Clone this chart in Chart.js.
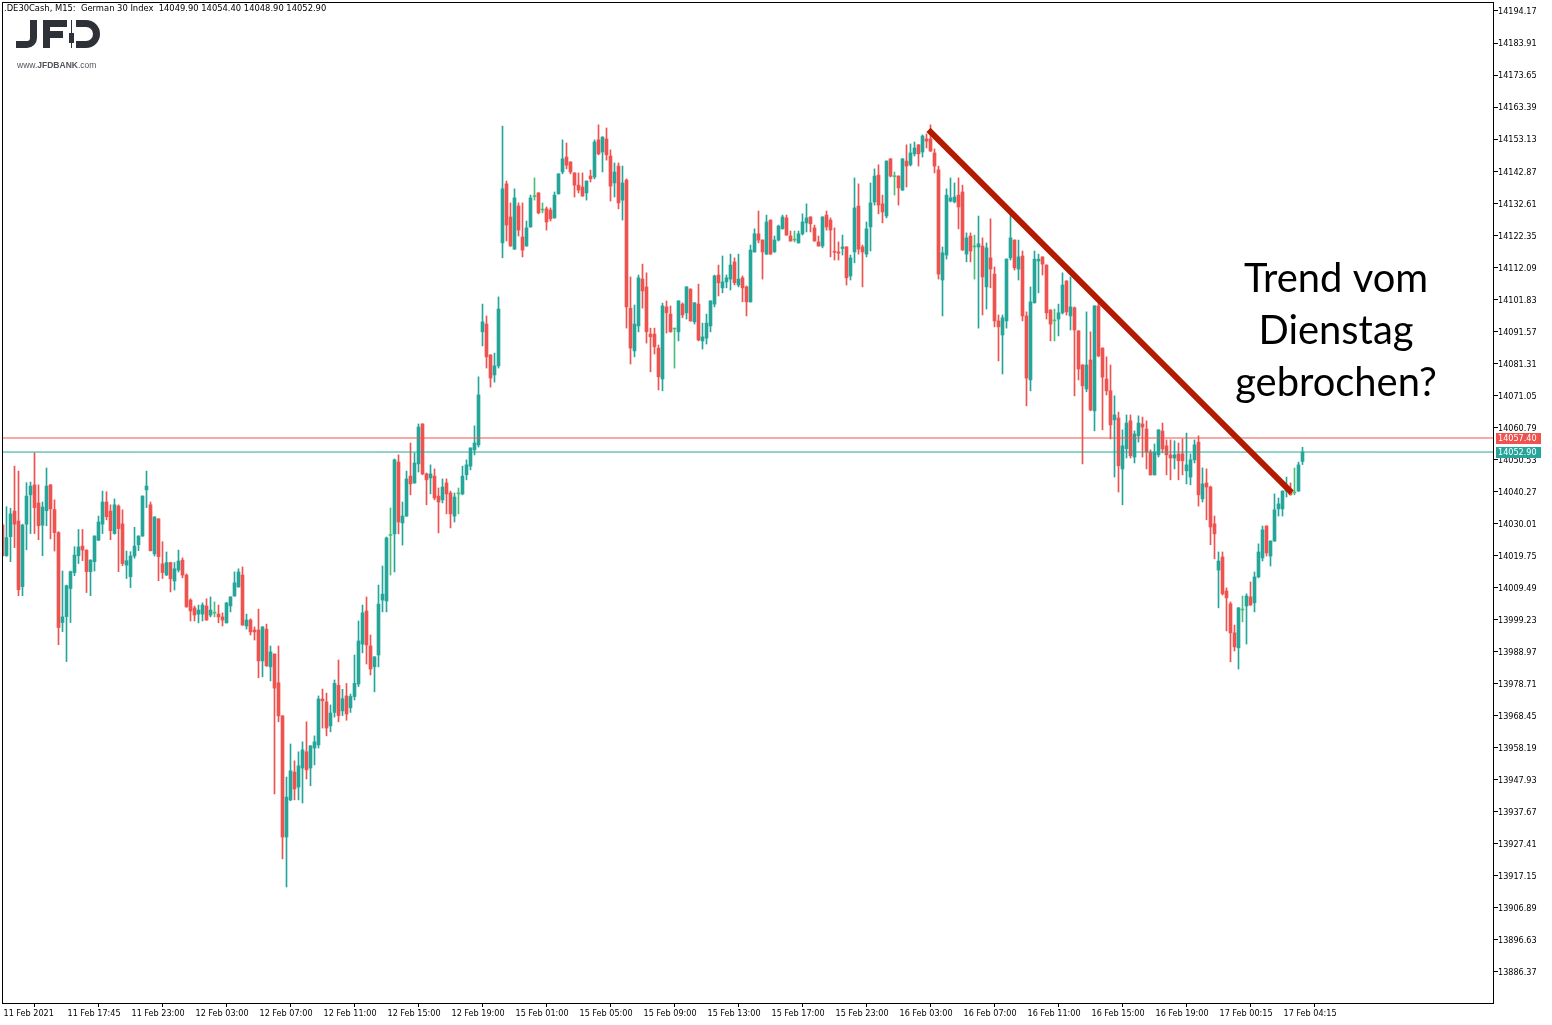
<!DOCTYPE html>
<html>
<head>
<meta charset="utf-8">
<title>.DE30Cash M15</title>
<script src="https://cdn.jsdelivr.net/npm/chart.js@4.4.1/dist/chart.umd.min.js"></script>
<style>
    html, body { margin: 0; padding: 0; background: #ffffff; }
    #wrap { position: relative; width: 1552px; height: 1025px; }
</style>
</head>
<body>
<div id="wrap"><canvas id="priceChart" width="1552" height="1025"></canvas></div>
<script>
// ==============================
// Chart data (M15 bars)
// ==============================
const timeLabels = [
    "11 Feb 2021", "11 Feb 17:45", "11 Feb 23:00", "12 Feb 03:00", "12 Feb 07:00",
    "12 Feb 11:00", "12 Feb 15:00", "12 Feb 19:00", "15 Feb 01:00", "15 Feb 05:00",
    "15 Feb 09:00", "15 Feb 13:00", "15 Feb 17:00", "15 Feb 23:00", "16 Feb 03:00",
    "16 Feb 07:00", "16 Feb 11:00", "16 Feb 15:00", "16 Feb 19:00", "17 Feb 00:15",
    "17 Feb 04:15"
];

const priceTicks = [
    14194.17, 14183.91, 14173.65, 14163.39, 14153.13, 14142.87, 14132.61, 14122.35,
    14112.09, 14101.83, 14091.57, 14081.31, 14071.05, 14060.79, 14050.53, 14040.27,
    14030.01, 14019.75, 14009.49, 13999.23, 13988.97, 13978.71, 13968.45, 13958.19,
    13947.93, 13937.67, 13927.41, 13917.15, 13906.89, 13896.63, 13886.37
];

const opens = [
    14029.5, 14019.7, 14025.8, 14034.0, 14030.8, 14009.8, 14029.8, 14039.2, 14042.4, 14036.6,
    14029.5, 14034.1, 14042.4, 14034.5, 14027.1, 13998.3, 14000.2, 14009.2, 14014.3, 14019.7,
    14022.8, 14021.5, 14014.6, 14017.8, 14024.7, 14029.8, 14036.9, 14034.0, 14026.8, 14035.6,
    14029.9, 14016.7, 14013.0, 14019.6, 14023.2, 14026.0, 14040.8, 14036.0, 14020.3, 14031.5,
    14017.1, 14013.5, 14017.5, 14011.6, 14015.1, 14018.3, 14013.5, 14005.5, 14003.0, 14001.0,
    14001.0, 14003.6, 14000.7, 14001.3, 14001.0, 14000.1, 13998.2, 14003.6, 14006.8, 14009.7,
    14013.5, 13997.2, 13999.1, 13995.9, 13995.9, 13986.0, 13996.2, 13984.1, 13988.2, 13979.0,
    13968.4, 13929.6, 13941.5, 13950.4, 13945.6, 13951.7, 13956.9, 13951.7, 13958.1, 13959.1,
    13973.8, 13972.9, 13965.2, 13969.5, 13978.2, 13970.0, 13974.8, 13971.0, 13974.6, 13978.6,
    13991.4, 14002.0, 13990.8, 13984.1, 13987.9, 14005.5, 14005.2, 14026.2, 14026.7, 14049.7,
    14030.2, 14032.4, 14045.2, 14043.0, 14049.1, 14061.9, 14045.9, 14044.6, 14045.2, 14038.8,
    14037.6, 14043.0, 14039.8, 14032.4, 14039.5, 14039.5, 14045.6, 14048.4, 14053.6, 14055.2,
    14091.4, 14093.9, 14084.0, 14077.6, 14080.5, 14119.9, 14138.8, 14128.2, 14117.9, 14131.7,
    14121.8, 14118.9, 14125.0, 14134.7, 14135.9, 14130.4, 14130.8, 14130.4, 14127.9, 14135.6,
    14142.6, 14147.4, 14145.8, 14142.3, 14138.4, 14137.8, 14135.9, 14141.3, 14141.0, 14152.9,
    14149.0, 14153.2, 14147.7, 14139.1, 14144.5, 14133.6, 14140.0, 14099.0, 14085.3, 14093.3,
    14108.3, 14105.8, 14090.7, 14090.7, 14086.2, 14076.3, 14099.4, 14097.1, 14092.3, 14091.4,
    14100.3, 14097.5, 14105.1, 14094.6, 14100.3, 14088.5, 14089.4, 14093.3, 14100.3, 14109.6,
    14105.5, 14107.4, 14108.3, 14113.8, 14106.4, 14108.7, 14105.8, 14101.0, 14117.0, 14122.8,
    14120.8, 14116.3, 14127.2, 14117.0, 14120.8, 14124.4, 14127.9, 14122.1, 14120.8, 14119.9,
    14122.8, 14126.3, 14128.2, 14124.7, 14120.2, 14118.9, 14128.8, 14127.2, 14117.2, 14117.0,
    14118.1, 14118.6, 14109.3, 14117.0, 14131.7, 14118.6, 14116.3, 14125.0, 14133.0, 14141.6,
    14132.4, 14128.5, 14146.8, 14141.1, 14141.3, 14136.8, 14146.1, 14144.9, 14148.4, 14151.3,
    14149.0, 14153.2, 14153.2, 14148.7, 14143.3, 14108.0, 14116.0, 14133.3, 14133.0, 14135.2,
    14136.2, 14116.3, 14122.1, 14118.6, 14118.6, 14118.9, 14105.8, 14115.1, 14109.9, 14094.9,
    14090.4, 14094.9, 14115.1, 14120.8, 14111.5, 14115.7, 14096.5, 14076.0, 14100.7, 14114.1,
    14115.4, 14112.8, 14098.4, 14094.9, 14095.5, 14097.5, 14107.7, 14096.5, 14099.1, 14091.7,
    14080.8, 14073.1, 14082.4, 14066.1, 14099.7, 14086.2, 14076.3, 14072.5, 14063.2, 14063.8,
    14047.5, 14054.0, 14062.9, 14051.3, 14058.1, 14061.9, 14060.3, 14052.9, 14045.6, 14052.0,
    14059.6, 14054.9, 14052.0, 14051.0, 14052.3, 14052.3, 14046.9, 14044.9, 14050.4, 14056.1,
    14037.9, 14043.0, 14041.7, 14029.9, 14015.1, 14019.3, 14008.4, 14004.3, 13995.0, 13990.2,
    14002.3, 14003.6, 14006.5, 14004.6, 14012.9, 14019.0, 14029.2, 14019.6, 14024.4, 14034.7,
    14034.7, 14040.4, 14040.8, 14039.8, 14040.4, 14049.9
];

const highs = [
    14030.0, 14035.4, 14034.9, 14048.4, 14046.8, 14029.8, 14043.1, 14043.3, 14052.7, 14042.4,
    14036.9, 14047.8, 14042.5, 14037.6, 14027.4, 14014.8, 14010.3, 14014.8, 14022.6, 14028.1,
    14028.1, 14021.6, 14018.4, 14026.1, 14032.4, 14040.4, 14040.2, 14036.0, 14037.9, 14036.0,
    14034.4, 14021.2, 14021.0, 14028.8, 14026.1, 14038.9, 14046.8, 14036.9, 14032.2, 14031.6,
    14024.2, 14020.9, 14017.6, 14017.5, 14021.5, 14019.0, 14013.9, 14005.9, 14003.6, 14003.9,
    14004.6, 14005.9, 14006.5, 14004.9, 14003.9, 14001.4, 14004.7, 14006.6, 14014.5, 14015.5,
    14016.1, 14001.0, 13999.5, 13996.9, 14002.6, 13997.0, 13997.8, 13990.8, 13988.3, 13990.8,
    13968.5, 13948.8, 13959.4, 13954.0, 13956.9, 13960.1, 13966.5, 13958.9, 13962.0, 13974.8,
    13977.0, 13975.7, 13971.9, 13979.9, 13986.3, 13976.9, 13978.8, 13975.4, 13987.9, 13998.8,
    14003.9, 14006.5, 13994.3, 13987.4, 14010.3, 14016.4, 14025.7, 14035.0, 14050.7, 14052.0,
    14036.9, 14046.8, 14055.8, 14052.6, 14061.9, 14062.0, 14046.2, 14048.8, 14047.5, 14041.4,
    14044.3, 14044.3, 14040.4, 14039.8, 14041.4, 14048.4, 14050.4, 14054.3, 14061.3, 14077.0,
    14100.3, 14096.5, 14084.1, 14084.6, 14102.6, 14157.3, 14139.7, 14132.7, 14137.2, 14132.7,
    14132.7, 14126.9, 14135.2, 14140.7, 14136.0, 14132.7, 14131.4, 14131.1, 14136.2, 14142.1,
    14152.9, 14151.9, 14145.9, 14142.4, 14142.3, 14142.3, 14139.8, 14143.2, 14152.9, 14157.7,
    14153.9, 14156.7, 14149.7, 14145.5, 14145.5, 14144.5, 14140.4, 14109.0, 14100.0, 14109.6,
    14113.1, 14110.3, 14092.6, 14092.6, 14087.2, 14100.6, 14101.3, 14099.7, 14092.6, 14101.4,
    14100.7, 14105.9, 14105.2, 14100.8, 14106.7, 14094.2, 14097.1, 14101.4, 14109.6, 14112.8,
    14115.7, 14109.6, 14116.3, 14115.1, 14116.3, 14109.3, 14106.1, 14119.2, 14124.4, 14130.1,
    14120.9, 14128.8, 14127.3, 14122.1, 14125.6, 14128.8, 14128.8, 14123.7, 14123.7, 14123.7,
    14129.2, 14132.4, 14128.3, 14125.6, 14122.1, 14128.3, 14130.1, 14127.9, 14124.7, 14120.2,
    14122.4, 14118.7, 14116.0, 14140.7, 14138.8, 14119.2, 14126.6, 14139.1, 14143.6, 14144.9,
    14135.2, 14146.2, 14146.9, 14142.6, 14141.4, 14146.9, 14151.3, 14151.6, 14152.2, 14151.4,
    14154.5, 14154.8, 14157.7, 14150.0, 14144.5, 14118.6, 14137.2, 14140.7, 14139.1, 14140.7,
    14138.4, 14123.1, 14123.1, 14122.4, 14128.5, 14121.5, 14119.9, 14127.6, 14112.2, 14096.8,
    14096.8, 14114.8, 14129.2, 14120.9, 14120.8, 14117.3, 14097.8, 14105.8, 14117.3, 14116.3,
    14115.5, 14112.9, 14098.5, 14098.7, 14100.3, 14110.3, 14107.8, 14109.0, 14099.4, 14091.8,
    14080.9, 14097.8, 14091.4, 14099.8, 14100.7, 14086.3, 14083.4, 14080.8, 14070.9, 14065.7,
    14060.0, 14064.8, 14064.8, 14059.7, 14064.5, 14064.1, 14062.9, 14053.6, 14055.5, 14060.1,
    14062.2, 14056.8, 14056.8, 14056.5, 14055.8, 14057.1, 14059.0, 14052.3, 14056.8, 14058.1,
    14047.8, 14047.5, 14042.0, 14032.4, 14020.9, 14020.9, 14009.4, 14004.9, 13997.5, 14003.1,
    14006.8, 14007.5, 14011.3, 14014.5, 14023.5, 14029.2, 14029.3, 14024.5, 14039.5, 14038.2,
    14040.5, 14044.9, 14043.0, 14047.8, 14049.7, 14054.4
];

const lows = [
    14019.5, 14019.5, 14017.8, 14022.3, 14006.9, 14006.9, 14021.6, 14026.8, 14026.8, 14024.8,
    14019.7, 14029.3, 14025.1, 14021.2, 13991.2, 13995.4, 13985.8, 13998.3, 14013.3, 14017.2,
    14018.1, 14007.9, 14006.9, 14014.8, 14024.5, 14026.8, 14031.2, 14024.8, 14026.6, 14014.6,
    14016.5, 14012.4, 14009.5, 14018.9, 14021.3, 14025.9, 14035.1, 14021.2, 14019.6, 14011.7,
    14012.4, 14013.4, 14008.1, 14008.7, 14014.5, 14012.6, 14003.2, 13998.8, 13998.8, 13998.2,
    13998.8, 13999.0, 14000.1, 14000.1, 13998.2, 13997.2, 13998.1, 14001.7, 14006.7, 14009.6,
    13997.4, 13996.2, 13994.3, 13992.7, 13980.6, 13980.9, 13984.3, 13979.6, 13943.4, 13966.5,
    13922.6, 13913.6, 13941.2, 13941.5, 13941.5, 13940.5, 13948.2, 13946.0, 13952.7, 13958.1,
    13964.5, 13962.0, 13963.3, 13968.0, 13966.5, 13968.5, 13967.0, 13969.5, 13973.5, 13977.8,
    13988.6, 13985.0, 13981.5, 13976.1, 13984.1, 14001.7, 14001.7, 14013.5, 14014.5, 14026.7,
    14023.1, 14032.3, 14039.2, 14042.9, 14046.5, 14045.6, 14036.0, 14039.5, 14037.6, 14027.0,
    14036.6, 14033.1, 14028.6, 14030.5, 14033.1, 14039.2, 14044.0, 14047.2, 14052.0, 14054.5,
    14086.9, 14079.8, 14073.7, 14075.3, 14079.8, 14115.1, 14120.5, 14118.8, 14117.8, 14122.1,
    14115.4, 14118.8, 14124.9, 14133.6, 14129.2, 14129.5, 14124.0, 14126.9, 14127.8, 14135.5,
    14142.0, 14143.6, 14142.0, 14134.6, 14135.9, 14134.8, 14133.6, 14139.4, 14140.4, 14148.1,
    14142.6, 14146.4, 14133.3, 14134.6, 14130.8, 14127.2, 14092.6, 14081.1, 14083.4, 14091.4,
    14099.0, 14087.8, 14078.6, 14084.3, 14072.8, 14072.5, 14091.0, 14091.3, 14079.8, 14088.5,
    14095.9, 14095.5, 14094.8, 14093.9, 14088.5, 14085.9, 14087.5, 14091.4, 14099.4, 14102.9,
    14103.9, 14105.5, 14104.8, 14106.4, 14105.8, 14101.0, 14096.5, 14100.9, 14116.9, 14119.9,
    14108.3, 14116.2, 14116.2, 14116.9, 14120.5, 14124.3, 14122.3, 14120.4, 14120.2, 14119.8,
    14122.4, 14123.4, 14123.4, 14120.4, 14118.8, 14118.3, 14124.0, 14115.4, 14114.4, 14114.4,
    14116.0, 14106.4, 14108.0, 14113.5, 14116.3, 14105.8, 14115.4, 14117.3, 14132.0, 14129.2,
    14126.3, 14127.9, 14141.0, 14135.2, 14132.0, 14136.7, 14137.8, 14144.5, 14147.7, 14144.5,
    14147.4, 14150.3, 14149.2, 14142.3, 14108.3, 14096.5, 14114.7, 14133.0, 14132.7, 14124.4,
    14117.5, 14113.8, 14113.8, 14108.3, 14092.6, 14096.8, 14098.7, 14105.5, 14093.0, 14082.1,
    14077.9, 14092.6, 14114.4, 14111.2, 14108.0, 14094.9, 14067.7, 14072.5, 14100.6, 14103.9,
    14109.6, 14095.5, 14088.5, 14088.5, 14090.1, 14097.1, 14096.8, 14092.0, 14070.9, 14076.0,
    14049.1, 14072.2, 14066.1, 14059.7, 14083.4, 14060.0, 14071.2, 14057.1, 14044.9, 14040.1,
    14036.0, 14051.0, 14051.0, 14049.4, 14056.1, 14051.3, 14047.5, 14045.5, 14045.5, 14051.3,
    14052.6, 14045.6, 14044.0, 14047.5, 14044.0, 14045.6, 14042.7, 14042.4, 14049.4, 14035.6,
    14036.9, 14031.2, 14023.2, 14018.7, 14003.0, 14007.1, 13995.6, 13985.7, 13989.2, 13983.4,
    13998.5, 13991.4, 14003.8, 14001.7, 14012.6, 14018.0, 14019.6, 14016.4, 14024.3, 14032.4,
    14032.4, 14038.5, 14039.1, 14039.2, 14040.3, 14048.9
];

const closes = [
    14019.7, 14025.5, 14033.1, 14029.8, 14008.8, 14029.5, 14038.8, 14042.0, 14035.1, 14029.3,
    14035.3, 14042.0, 14034.7, 14027.1, 13996.7, 14000.1, 14010.1, 14014.6, 14019.9, 14022.5,
    14021.5, 14014.6, 14018.3, 14026.0, 14030.5, 14036.9, 14032.2, 14027.7, 14036.0, 14028.4,
    14017.2, 14018.1, 14019.6, 14022.8, 14026.0, 14038.8, 14042.0, 14021.3, 14032.1, 14019.4,
    14014.3, 14017.5, 14012.3, 14015.5, 14018.0, 14013.5, 14003.3, 14002.0, 14000.7, 14002.3,
    14003.9, 13999.1, 14002.3, 14001.3, 14000.1, 13999.1, 14004.6, 14006.5, 14011.0, 14014.5,
    13997.5, 13999.1, 13995.3, 13995.3, 13986.0, 13996.9, 13984.4, 13988.9, 13977.3, 13968.4,
    13929.6, 13942.4, 13950.8, 13945.0, 13952.4, 13957.5, 13951.1, 13958.8, 13960.1, 13973.8,
    13973.2, 13964.5, 13969.3, 13978.8, 13968.5, 13973.9, 13969.0, 13974.6, 13978.8, 13992.4,
    14001.4, 13991.1, 13983.4, 13987.3, 14004.2, 14007.4, 14025.4, 14026.2, 14050.4, 14030.5,
    14032.4, 14044.3, 14042.7, 14049.4, 14060.9, 14045.9, 14044.0, 14045.9, 14038.2, 14036.9,
    14041.7, 14039.5, 14033.1, 14038.5, 14039.5, 14045.2, 14048.8, 14054.2, 14055.8, 14071.2,
    14094.6, 14083.4, 14076.6, 14080.5, 14098.7, 14137.2, 14125.6, 14118.9, 14134.3, 14124.0,
    14117.6, 14124.7, 14134.3, 14134.7, 14129.5, 14130.4, 14126.6, 14127.6, 14135.2, 14142.0,
    14146.8, 14144.8, 14142.6, 14138.4, 14136.8, 14134.9, 14139.7, 14140.4, 14152.2, 14148.4,
    14153.8, 14148.1, 14138.1, 14142.6, 14132.7, 14139.1, 14099.4, 14086.2, 14093.9, 14108.7,
    14104.5, 14091.4, 14089.8, 14086.6, 14077.0, 14099.7, 14097.5, 14091.4, 14092.3, 14101.3,
    14096.8, 14105.8, 14094.9, 14100.7, 14088.8, 14089.8, 14094.2, 14101.3, 14109.3, 14107.1,
    14107.4, 14108.7, 14112.8, 14107.1, 14108.3, 14105.5, 14101.0, 14117.6, 14122.8, 14120.8,
    14117.0, 14126.6, 14116.3, 14120.8, 14125.3, 14128.2, 14122.4, 14120.5, 14120.8, 14122.8,
    14126.6, 14127.9, 14126.0, 14120.5, 14118.9, 14128.2, 14125.0, 14124.0, 14116.9, 14116.6,
    14118.6, 14108.7, 14115.1, 14131.1, 14117.9, 14117.0, 14124.4, 14132.7, 14141.3, 14132.0,
    14129.8, 14146.1, 14141.3, 14141.1, 14137.5, 14146.8, 14144.5, 14148.7, 14150.3, 14148.4,
    14154.1, 14152.5, 14149.3, 14144.5, 14109.9, 14116.7, 14135.2, 14134.3, 14134.6, 14131.4,
    14117.6, 14121.5, 14117.3, 14118.6, 14119.6, 14109.0, 14118.3, 14111.5, 14094.9, 14093.0,
    14095.9, 14114.7, 14121.5, 14111.9, 14115.4, 14096.5, 14076.6, 14101.0, 14114.7, 14114.7,
    14113.1, 14097.5, 14093.9, 14094.9, 14097.5, 14106.4, 14097.8, 14099.4, 14092.0, 14079.5,
    14074.1, 14080.8, 14066.4, 14099.7, 14083.7, 14076.9, 14072.5, 14061.6, 14064.8, 14048.5,
    14054.9, 14062.2, 14051.7, 14058.7, 14062.2, 14060.9, 14052.9, 14045.6, 14052.9, 14060.0,
    14053.9, 14052.0, 14051.0, 14052.0, 14050.1, 14050.1, 14048.8, 14050.4, 14055.2, 14039.2,
    14042.7, 14041.7, 14028.9, 14026.7, 14018.0, 14007.5, 14006.2, 13995.0, 13990.5, 14003.0,
    14002.3, 14006.8, 14003.9, 14012.9, 14020.9, 14028.0, 14020.6, 14024.4, 14034.4, 14036.3,
    14040.4, 14041.7, 14039.2, 14039.8, 14048.8, 14052.9
];

// price lines and the drawn trend line
const askPrice = 14057.40;
const bidPrice = 14052.90;
const trendBars = [231.5, 322.3];
const trendPrices = [14156.1, 14039.9];

const headerText = ".DE30Cash, M15:  German 30 Index  14049.90 14054.40 14048.90 14052.90";
const noteLines = ["Trend vom", "Dienstag", "gebrochen?"];


// ==============================
// Colours and fonts
// ==============================
const upColor = "#26a69a";
const downColor = "#ef5350";
const dojiColor = "#4cbe7c";
const trendColor = "#b31b00";
const logoColor = "#2e3238";
const axisFont = '"DejaVu Sans Condensed", "Liberation Sans", sans-serif';

const X_MIN = -0.125;
const X_MAX = 372.875;

function candleColor(i) {
    if (opens[i] === closes[i]) return dojiColor;
    return closes[i] > opens[i] ? upColor : downColor;
}

const wickData = opens.map((o, i) => ({ x: i, y: [lows[i], highs[i]] }));
const bodyData = opens.map((o, i) => ({ x: i, y: [opens[i], closes[i]] }));


// ==============================
// JFD logo (J, F, candle, D)
// ==============================
function drawLogo(ctx) {
    ctx.fillStyle = logoColor;
    ctx.strokeStyle = logoColor;
    ctx.lineWidth = 7;
    ctx.lineCap = "butt";
    ctx.lineJoin = "miter";

    // J
    ctx.beginPath();
    ctx.moveTo(33.5, 20);
    ctx.lineTo(33.5, 38);
    ctx.arcTo(33.5, 44.5, 27, 44.5, 6.5);
    ctx.lineTo(16, 44.5);
    ctx.stroke();

    // F
    ctx.fillRect(43, 20, 7, 28);
    ctx.fillRect(43, 20, 24, 7);
    ctx.fillRect(43, 31, 20, 7);

    // candle
    ctx.fillRect(71, 20, 1, 28);
    ctx.fillRect(69, 33, 5, 10);

    // D
    ctx.beginPath();
    ctx.moveTo(76, 23.5);
    ctx.lineTo(86, 23.5);
    ctx.arc(86, 34, 10.5, -Math.PI / 2, Math.PI / 2);
    ctx.lineTo(76, 44.5);
    ctx.stroke();

    ctx.fillStyle = "#50555b";
    ctx.textAlign = "left";
    ctx.textBaseline = "alphabetic";
    let lx = 17;
    ctx.font = '8.5px "Liberation Sans", sans-serif';
    ctx.fillText("www.", lx, 68);
    lx += ctx.measureText("www.").width;
    ctx.font = 'bold 8.5px "Liberation Sans", sans-serif';
    ctx.fillText("JFDBANK", lx, 68);
    lx += ctx.measureText("JFDBANK").width;
    ctx.font = '8.5px "Liberation Sans", sans-serif';
    ctx.fillText(".com", lx, 68);
}


// ==============================
// Overlay: frame, price tags, header, logo, note
// ==============================
const overlayPlugin = {
    id: "mtOverlay",
    afterDraw(chart) {
        const ctx = chart.ctx;
        const area = chart.chartArea;
        const yScale = chart.scales.y;

        ctx.save();

        // frame
        ctx.strokeStyle = "#000";
        ctx.lineWidth = 1;
        ctx.strokeRect(area.left + 0.5, area.top + 0.5, area.right - area.left - 1, area.bottom - area.top);

        // price tags on the axis
        ctx.font = "9px " + axisFont;
        ctx.textBaseline = "middle";
        ctx.textAlign = "left";
        [[askPrice, downColor], [bidPrice, upColor]].forEach(([price, color]) => {
            const y = Math.round(yScale.getPixelForValue(price));
            ctx.fillStyle = color;
            ctx.fillRect(area.right + 2, y - 5, 45, 11);
            ctx.fillStyle = "#fff";
            ctx.fillText(price.toFixed(2), area.right + 4, y + 1);
        });

        // header
        ctx.fillStyle = "#000";
        ctx.font = "9.3px " + axisFont;
        ctx.fillText(headerText, 4, 9);

        drawLogo(ctx);

        // note text
        ctx.fillStyle = "#000";
        ctx.textAlign = "center";
        ctx.textBaseline = "alphabetic";
        ctx.font = '44px "Lato", sans-serif';
        const w = ctx.measureText(noteLines[2]).width;
        const size = 44 * 202 / w;
        ctx.font = size.toFixed(1) + 'px "Lato", sans-serif';
        ctx.fillText(noteLines[0], 1336, 292);
        ctx.fillText(noteLines[1], 1336, 344);
        ctx.fillText(noteLines[2], 1336, 396);

        ctx.restore();
    }
};


// ==============================
// Candlestick chart (floating bars)
// ==============================
Chart.defaults.color = "#000";
Chart.defaults.font.family = axisFont;
Chart.defaults.font.size = 9;

function noScalePadding(scale) {
    scale.paddingTop = 0;
    scale.paddingBottom = 0;
    scale.paddingLeft = 0;
    scale.paddingRight = 0;
}

const priceChart = new Chart(document.getElementById("priceChart"), {
    type: "bar",
    data: {
        datasets: [
            {
                type: "line",
                label: "Trend",
                data: trendBars.map((b, k) => ({ x: b, y: trendPrices[k] })),
                borderColor: trendColor,
                borderWidth: 6,
                borderCapStyle: "butt",
                pointRadius: 0,
                order: 0
            },
            {
                type: "line",
                label: "Ask",
                data: [{ x: X_MIN, y: askPrice }, { x: X_MAX, y: askPrice }],
                borderColor: downColor,
                borderWidth: 1,
                pointRadius: 0,
                order: 1
            },
            {
                type: "line",
                label: "Bid",
                data: [{ x: X_MIN, y: bidPrice }, { x: X_MAX, y: bidPrice }],
                borderColor: upColor,
                borderWidth: 1,
                pointRadius: 0,
                order: 1
            },
            {
                label: "Body",
                data: bodyData,
                backgroundColor: ctx => candleColor(ctx.dataIndex),
                borderWidth: 0,
                barThickness: 3,
                minBarLength: 1,
                grouped: false,
                order: 2
            },
            {
                label: "Wick",
                data: wickData,
                backgroundColor: ctx => candleColor(ctx.dataIndex),
                borderWidth: 0,
                barThickness: 1,
                grouped: false,
                order: 3
            }
        ]
    },
    options: {
        responsive: false,
        animation: false,
        events: [],
        layout: {
            padding: { left: 2, top: 2, right: 0, bottom: 0 }
        },
        plugins: {
            legend: { display: false },
            tooltip: { enabled: false }
        },
        scales: {
            x: {
                type: "linear",
                min: X_MIN,
                max: X_MAX,
                offset: false,
                border: { display: false },
                grid: {
                    drawOnChartArea: false,
                    drawTicks: true,
                    tickLength: 4,
                    color: "#000"
                },
                ticks: {
                    autoSkip: false,
                    maxRotation: 0,
                    minRotation: 0,
                    align: "start",
                    padding: 1,
                    labelOffset: 1,
                    callback: (value, index) => timeLabels[index]
                },
                afterBuildTicks: scale => {
                    scale.ticks = timeLabels.map((t, k) => ({ value: k * 16 }));
                },
                afterFit: scale => {
                    scale.height = 22;
                    noScalePadding(scale);
                }
            },
            y: {
                position: "right",
                min: 13876.44,
                max: 14197.05,
                border: { display: false },
                grid: {
                    drawOnChartArea: false,
                    drawTicks: true,
                    tickLength: 4,
                    color: "#000"
                },
                ticks: {
                    padding: 0,
                    labelOffset: 1,
                    callback: value => value.toFixed(2)
                },
                afterBuildTicks: scale => {
                    scale.ticks = priceTicks.map(v => ({ value: v }));
                },
                afterFit: scale => {
                    scale.width = 58;
                    noScalePadding(scale);
                }
            }
        }
    },
    plugins: [overlayPlugin]
});
</script>
</body>
</html>
